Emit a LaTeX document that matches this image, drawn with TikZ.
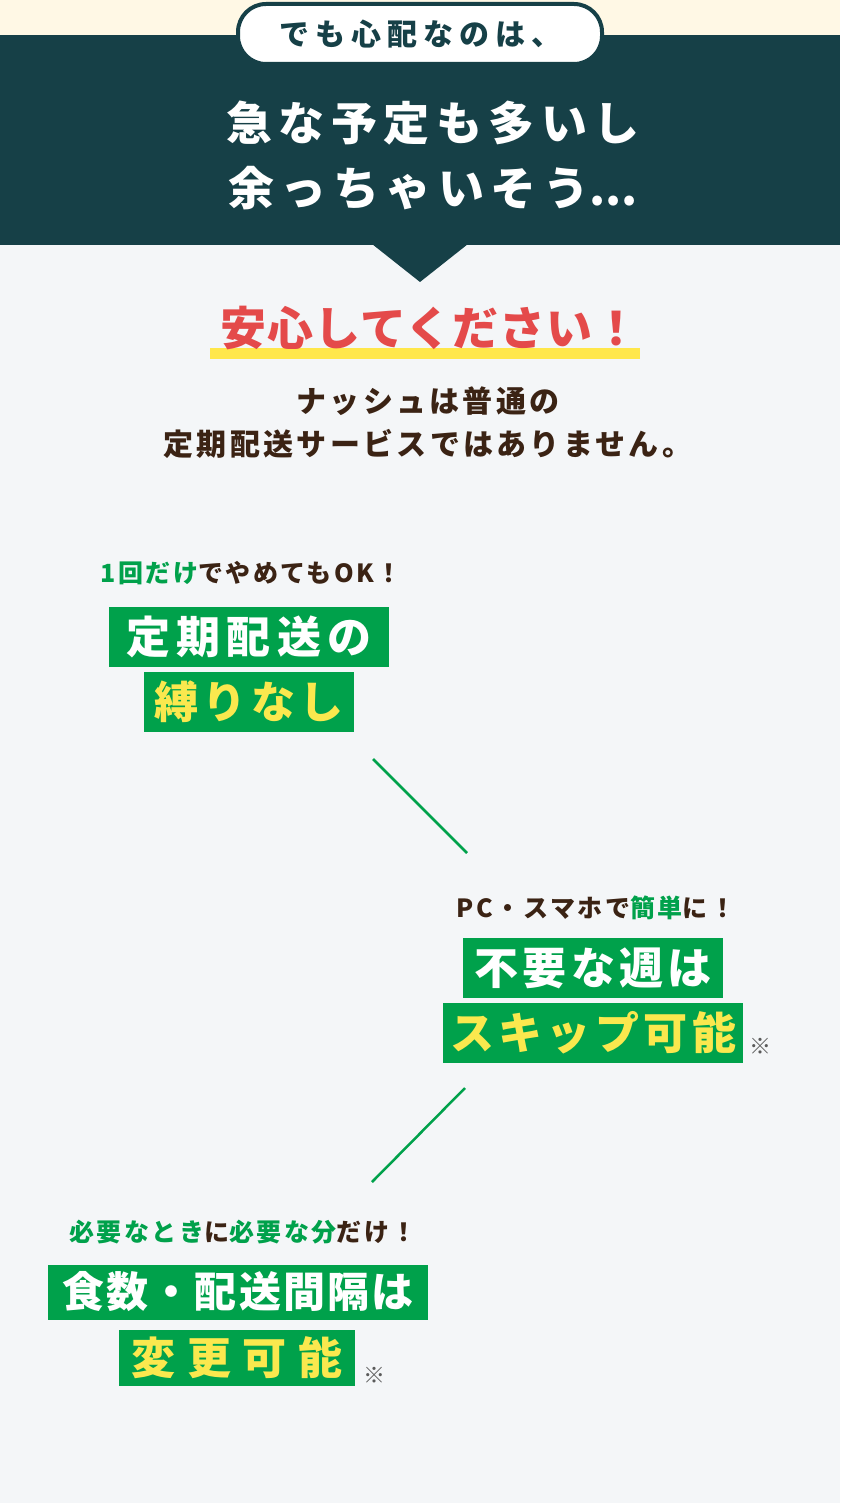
\documentclass[tikz,border=0pt]{standalone}
\usepackage{fontspec}
\setmainfont{Noto Sans CJK JP}
\usetikzlibrary{positioning}
\definecolor{creambg}{RGB}{255,248,229}
\definecolor{darkteal}{RGB}{22,64,71}
\definecolor{paleblue}{RGB}{244,246,248}
\definecolor{alertred}{RGB}{228,74,74}
\definecolor{markyellow}{RGB}{255,231,74}
\definecolor{textbrown}{RGB}{59,35,20}
\definecolor{nashgreen}{RGB}{0,161,75}
\definecolor{lightyellow}{RGB}{250,232,78}
\definecolor{notegray}{RGB}{90,90,90}
\tikzset{
    % Speech pill style
    pill/.style={
        rectangle, draw=darkteal, line width=4pt, fill=white,
        minimum width=364pt, minimum height=60pt,
        rounded corners=28pt, text=darkteal,
        font={\bfseries\fontsize{30}{36}\selectfont\addfontfeatures{LetterSpace=20}}
    },
    % Header text style
    headline/.style={
        text=white, align=center,
        font={\bfseries\fontsize{46}{65}\selectfont\addfontfeatures{LetterSpace=14}}
    },
    % Red catch copy style
    catchcopy/.style={
        text=alertred,
        font={\bfseries\fontsize{46}{52}\selectfont\addfontfeatures{LetterSpace=2}}
    },
    % Body text style
    bodytext/.style={
        text=textbrown, align=center,
        font={\bfseries\fontsize{30}{43}\selectfont\addfontfeatures{LetterSpace=11}}
    },
    % Small lead style
    leadtext/.style={
        text=textbrown,
        font={\bfseries\fontsize{25}{30}\selectfont\addfontfeatures{LetterSpace=10}}
    },
    % Green label boxes
    greenbox/.style={
        rectangle, fill=nashgreen, text=white, inner sep=0pt,
        minimum height=60pt,
        font={\bfseries\fontsize{44}{50}\selectfont\addfontfeatures{LetterSpace=10}}
    },
    greenboxhl/.style={
        greenbox, text=lightyellow
    },
    % Footnote mark style
    notemark/.style={
        text=notegray, font=\fontsize{22}{24}\selectfont
    },
    % Divider lines
    divider/.style={
        draw=nashgreen, line width=2.5pt
    }
}

\begin{document}
\begin{tikzpicture}[x=1pt, y=-1pt]

\useasboundingbox (0,0) rectangle (840,1503);
\fill[paleblue] (0,0) rectangle (840,1503);
\fill[creambg] (0,0) rectangle (840,35);

% Dark header band with pointer
\fill[darkteal] (0,35) rectangle (840,245);
\fill[darkteal] (372,244) -- (468,244) -- (420,282) -- cycle;
\node[pill] (worrypill) at (420,34) {でも心配なのは、};
\node[headline] (worry) at (433,155) {急な予定も多いし\\余っちゃいそう{\addfontfeatures{LetterSpace=0}...}};

% Catch copy
\fill[markyellow] (210,348) rectangle (640,359);
\node[catchcopy] (relief) at (430,328) {安心してください！};
\node[bodytext] (notusual) at (428,423) {ナッシュは普通の\\定期配送サービスではありません。};

% Point 1
\node[leadtext] (lead1) at (251,573) {{\color{nashgreen}1回だけ}でやめてもOK！};
\node[greenbox, minimum width=280pt,
      font={\bfseries\fontsize{44}{50}\selectfont\addfontfeatures{LetterSpace=14}}] (free1) at (249,637) {定期配送の};
\node[greenboxhl, minimum width=210pt] (free2) at (249,702) {縛りなし};

\coordinate (div1a) at (373,759);
\coordinate (div1b) at (467,853);
\draw[divider] (div1a) -- (div1b);

% Point 2
\node[leadtext] (lead2) at (596,908) {PC・スマホで{\color{nashgreen}簡単}に！};
\node[greenbox, minimum width=260pt] (skip1) at (593,968) {不要な週は};
\node[greenboxhl, minimum width=300pt] (skip2) at (593,1033) {スキップ可能};
\node[notemark] (note2) at (760,1046) {※};

\coordinate (div2a) at (465,1088);
\coordinate (div2b) at (372,1182);
\draw[divider] (div2a) -- (div2b);

% Point 3
\node[leadtext] (lead3) at (243,1232) {{\color{nashgreen}必要なとき}に{\color{nashgreen}必要な分}だけ！};
\node[greenbox, minimum width=380pt, minimum height=55pt,
      font={\bfseries\fontsize{42}{48}\selectfont\addfontfeatures{LetterSpace=5}}] (change1) at (238,1292) {食数・配送間隔は};
\node[greenboxhl, minimum width=236pt, minimum height=56pt,
      font={\bfseries\fontsize{44}{50}\selectfont\addfontfeatures{LetterSpace=26}}] (change2) at (237,1358) {変更可能};
\node[notemark] (note3) at (374,1375) {※};

\end{tikzpicture}
\end{document}
